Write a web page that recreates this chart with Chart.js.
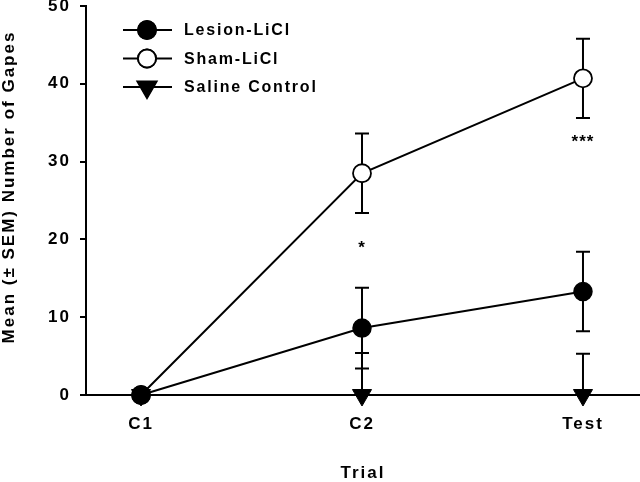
<!DOCTYPE html>
<html>
<head>
<meta charset="utf-8">
<script src="https://cdn.jsdelivr.net/npm/chart.js@4"></script>
<style>
  html, body { margin: 0; padding: 0; background: #fff; overflow: hidden; }
  canvas { display: block; }
</style>
</head>
<body>
<canvas id="c" width="640" height="482" style="width:640px;height:482px"></canvas>
<script>
const categories = ['C1', 'C2', 'Test'];
const lesionMean = [0, 8.6, 13.3];
const lesionSem  = [0, 5.2, 5.1];
const shamMean   = [0, 28.5, 40.7];
const shamSem    = [0, 5.1, 5.1];
const salineMean = [0, 0, 0];
const salineSem  = [0, 5.4, 5.3];
const yTicks = [0, 10, 20, 30, 40, 50];
const sigLabels = ['', '*', '***'];
const sigLevel  = [null, 19.3, 33.0];
const seriesNames = ['Lesion-LiCl', 'Sham-LiCl', 'Saline Control'];
const yTitle = 'Mean (± SEM) Number of Gapes';

const FONT = "'Liberation Sans', Arial, sans-serif";
const toPts = arr => arr.map((v, i) => ({ x: i, y: v }));

const spacingPlugin = {
  id: 'spacing',
  beforeLayout(chart) { chart.ctx.letterSpacing = '2px'; },
  beforeDraw(chart) { chart.ctx.letterSpacing = '2px'; }
};

const errorBarPlugin = {
  id: 'errbars',
  beforeDatasetsDraw(chart) {
    const ctx = chart.ctx, xs = chart.scales.x, ys = chart.scales.y, a = chart.chartArea;
    const sets = [[lesionMean, lesionSem], [shamMean, shamSem], [salineMean, salineSem]];
    ctx.save();
    ctx.beginPath();
    ctx.rect(a.left, a.top - 2, a.right - a.left, a.bottom - a.top + 2);
    ctx.clip();
    ctx.strokeStyle = '#000';
    ctx.lineWidth = 2;
    sets.forEach(([m, s]) => {
      m.forEach((v, i) => {
        if (!s[i]) return;
        const x = xs.getPixelForValue(i);
        const yt = ys.getPixelForValue(v + s[i]);
        const yb = ys.getPixelForValue(v - s[i]);
        ctx.beginPath();
        ctx.moveTo(x, yt); ctx.lineTo(x, yb);
        ctx.moveTo(x - 7, yt); ctx.lineTo(x + 7, yt);
        ctx.moveTo(x - 7, yb); ctx.lineTo(x + 7, yb);
        ctx.stroke();
      });
    });
    ctx.restore();
  },
  afterDatasetsDraw(chart) {
    const ctx = chart.ctx, xs = chart.scales.x, ys = chart.scales.y;
    ctx.save();
    ctx.fillStyle = '#000';
    ctx.font = 'bold 17px ' + FONT;
    ctx.letterSpacing = '1px';
    ctx.textAlign = 'center';
    ctx.textBaseline = 'alphabetic';
    sigLabels.forEach((t, i) => {
      if (!t) return;
      const m = ctx.measureText(t);
      const y = ys.getPixelForValue(sigLevel[i]);
      ctx.fillText(t, xs.getPixelForValue(i), y + (m.actualBoundingBoxAscent - m.actualBoundingBoxDescent) / 2);
    });
    // legend
    const rows = [30, 58.5, 87];
    chart.data.datasets.forEach((ds, k) => {
      const y = rows[k];
      ctx.strokeStyle = '#000';
      ctx.lineWidth = 2;
      ctx.beginPath(); ctx.moveTo(123, y); ctx.lineTo(172, y); ctx.stroke();
      Chart.helpers.drawPoint(ctx, {
        pointStyle: ds.pointStyle, rotation: ds.pointRotation || 0,
        radius: ds.pointRadius, borderWidth: ds.pointBorderWidth
      }, 147, y);
      ctx.fillStyle = ds.pointBackgroundColor;
      ctx.strokeStyle = '#000';
      ctx.lineWidth = ds.pointBorderWidth;
      ctx.fill();
      ctx.stroke();
      ctx.fillStyle = '#000';
      ctx.font = 'bold 16px ' + FONT;
      ctx.letterSpacing = '1.8px';
      ctx.textAlign = 'left';
      ctx.textBaseline = 'middle';
      ctx.fillText(ds.label, 184, y + 1);
    });
    // y axis title
    ctx.font = 'bold 17px ' + FONT;
    ctx.letterSpacing = '2px';
    ctx.textAlign = 'center';
    ctx.textBaseline = 'middle';
    ctx.translate(9, 187);
    ctx.rotate(-Math.PI / 2);
    ctx.fillText(yTitle, 0, 0);
    ctx.restore();
  }
};

new Chart(document.getElementById('c'), {
  type: 'line',
  data: {
    datasets: [
      { label: seriesNames[0], data: toPts(lesionMean), borderColor: '#000', borderWidth: 2,
        pointStyle: 'circle', pointRadius: 9, pointBorderWidth: 1.5,
        pointBackgroundColor: '#000', pointBorderColor: '#000', tension: 0 },
      { label: seriesNames[1], data: toPts(shamMean), borderColor: '#000', borderWidth: 2,
        pointStyle: 'circle', pointRadius: 9, pointBorderWidth: 1.8,
        pointBackgroundColor: '#fff', pointBorderColor: '#000', tension: 0 },
      { label: seriesNames[2], data: toPts(salineMean), borderColor: '#000', borderWidth: 2,
        pointStyle: 'triangle', pointRotation: 180, pointRadius: 11, pointBorderWidth: 1,
        pointBackgroundColor: '#000', pointBorderColor: '#000', tension: 0 }
    ]
  },
  options: {
    responsive: false,
    animation: false,
    events: [],
    clip: false,
    layout: { padding: 0, autoPadding: false },
    plugins: { legend: { display: false }, tooltip: { enabled: false } },
    scales: {
      x: {
        type: 'linear', min: -0.249, max: 2.258,
        afterBuildTicks: s => { s.ticks = categories.map((c, i) => ({ value: i })); },
        afterFit: s => { s.height = 87; s.paddingLeft = 0; s.paddingRight = 0; },
        grid: { display: false, drawTicks: false },
        border: { display: true, color: '#000', width: 2 },
        ticks: { color: '#000', font: { family: FONT, size: 17, weight: 'bold' }, padding: 19,
                 maxRotation: 0, autoSkip: false,
                 callback: v => categories[v] ?? '' },
        title: { display: true, text: 'Trial', color: '#000', align: 'center',
                 font: { family: FONT, size: 17, weight: 'bold', lineHeight: 1 },
                 padding: { top: 0, bottom: 0 } }
      },
      y: {
        min: 0, max: 50,
        afterBuildTicks: s => { s.ticks = yTicks.map(v => ({ value: v })); },
        afterFit: s => { s.width = 86; s.paddingTop = 6; s.paddingBottom = 0; },
        grid: { display: true, drawOnChartArea: false, drawTicks: true, tickLength: 6, color: '#000', lineWidth: 2 },
        border: { display: true, color: '#000', width: 2 },
        ticks: { color: '#000', font: { family: FONT, size: 17, weight: 'bold' }, padding: 9 }
      }
    }
  },
  plugins: [spacingPlugin, errorBarPlugin]
});
</script>
</body>
</html>
